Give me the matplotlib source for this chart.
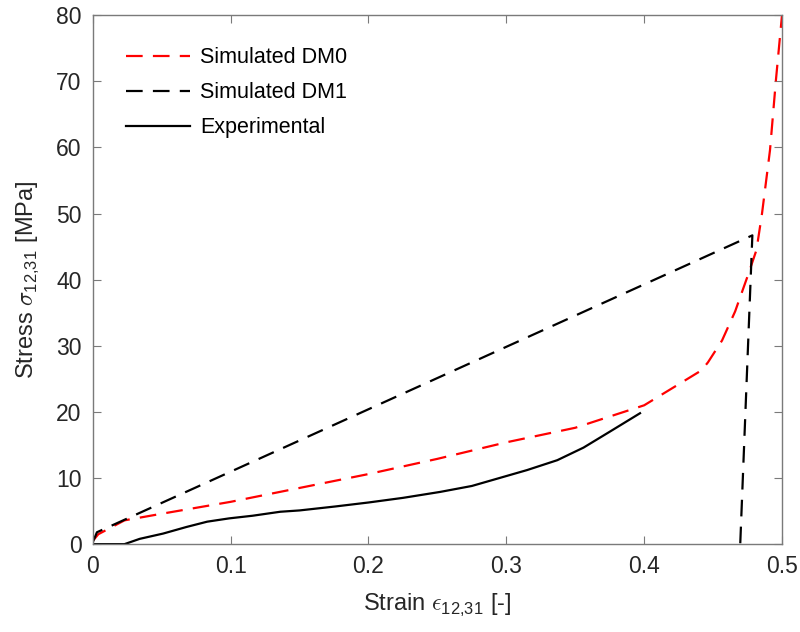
import matplotlib
matplotlib.use("Agg")
import matplotlib.pyplot as plt

plt.rcParams['font.family'] = ['Liberation Sans', 'DejaVu Sans']
plt.rcParams['mathtext.fontset'] = 'custom'
plt.rcParams['mathtext.rm'] = 'Liberation Sans'
plt.rcParams['mathtext.sf'] = 'Liberation Sans'
plt.rcParams['mathtext.it'] = 'cmmi10'
plt.rcParams['mathtext.fallback'] = 'cm'

# Simulated response, damage model 0
dm0_strain = [0, 0.004, 0.023, 0.05, 0.1, 0.15, 0.2, 0.25, 0.3, 0.35, 0.4,
              0.426, 0.4417, 0.4463, 0.4565, 0.466, 0.475, 0.4815, 0.4855,
              0.4913, 0.4956, 0.5]
dm0_stress = [0.5, 1.5, 3.6, 4.6, 6.4, 8.5, 10.6, 12.9, 15.4, 17.6, 21.0,
              24.3, 26.3, 27.5, 30.8, 35.2, 40.5, 44.5, 50.0, 59.6, 70.2, 80.0]

# Simulated response, damage model 1
dm1_strain = [0, 0.003, 0.4785, 0.4697]
dm1_stress = [0.3, 1.8, 46.7, 0.0]

# Experimental measurement
exp_strain = [0, 0.023, 0.034, 0.051, 0.068, 0.083, 0.099, 0.116, 0.136, 0.15,
              0.176, 0.2, 0.225, 0.252, 0.275, 0.295, 0.315, 0.337, 0.356,
              0.375, 0.397]
exp_stress = [0, 0, 0.8, 1.6, 2.6, 3.4, 3.9, 4.3, 4.9, 5.1,
              5.7, 6.3, 7.0, 7.9, 8.8, 10.0, 11.2, 12.7, 14.6,
              17.0, 19.8]

x_ticks = [0, 0.1, 0.2, 0.3, 0.4, 0.5]
x_tick_labels = ['0', '0.1', '0.2', '0.3', '0.4', '0.5']
y_ticks = [0, 10, 20, 30, 40, 50, 60, 70, 80]

fig = plt.figure(figsize=(8.0, 6.32), dpi=100)
ax = fig.add_axes([0.116, 0.139, 0.8615, 0.837])

dash = (7.5, 4.6)
ax.plot(dm0_strain, dm0_stress, color='#ff0000', lw=1.6, dashes=dash,
        label='Simulated DM0')
ax.plot(dm1_strain, dm1_stress, color='black', lw=1.6, dashes=dash,
        label='Simulated DM1')
ax.plot(exp_strain, exp_stress, color='black', lw=1.6, label='Experimental')

ax.set_xlim(0, 0.5)
ax.set_ylim(0, 80)
ax.set_xticks(x_ticks)
ax.set_xticklabels(x_tick_labels)
ax.set_yticks(y_ticks)

tick_color = '#262626'
for s in ax.spines.values():
    s.set_color('#7a7a7a')
    s.set_linewidth(1.0)
ax.tick_params(direction='in', length=6, width=0.8, colors='#7a7a7a',
               labelcolor=tick_color, labelsize=16.5, top=True, right=True, pad=8)

ax.set_xlabel(r'Strain $\epsilon_{\mathrm{12{,}31}}$ [-]', fontsize=17,
              color=tick_color, labelpad=9)
ax.set_ylabel(r'Stress $\sigma_{\mathrm{12{,}31}}$ [MPa]', fontsize=17,
              color=tick_color, labelpad=11)

leg = ax.legend(loc='upper left', frameon=False, fontsize=15.5, handlelength=3.0,
                handletextpad=0.45, labelspacing=0.66, borderaxespad=0.0,
                bbox_to_anchor=(0.035, 0.956))
for line in leg.get_lines():
    line.set_linewidth(1.6)

fig.savefig('out.png', dpi=100)
